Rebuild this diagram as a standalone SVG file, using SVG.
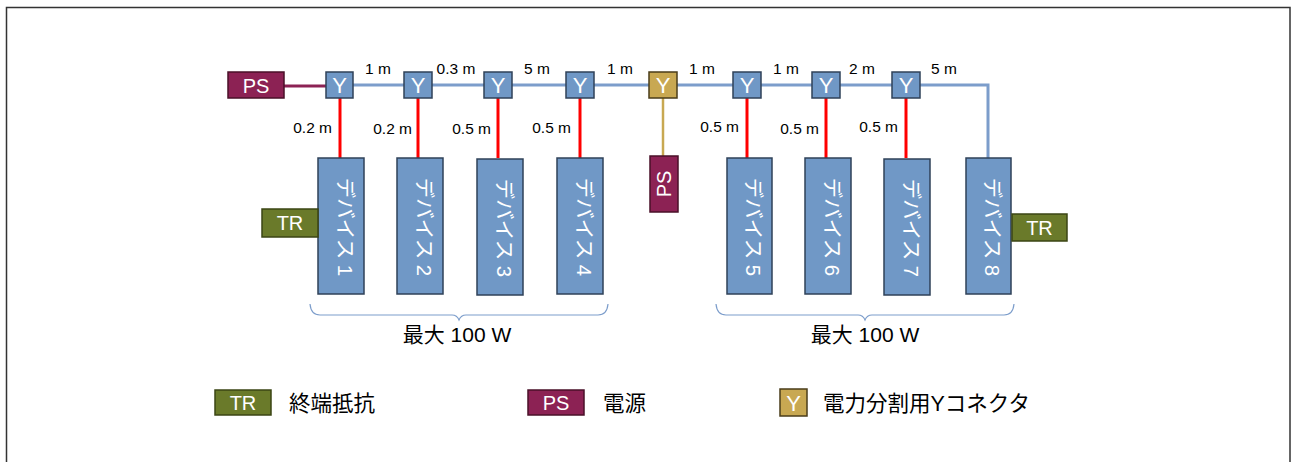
<svg xmlns="http://www.w3.org/2000/svg" width="1292" height="462" viewBox="0 0 1292 462">
<style>
text{font-family:"Liberation Sans","Noto Sans CJK JP",sans-serif}
.dev{fill:#7098C6;stroke:#2F4158;stroke-width:1.5}
.y{fill:#7098C6;stroke:#2F4158;stroke-width:1.5}
.yg{fill:#C8A852;stroke:#4A3D1A;stroke-width:1.5}
.ps{fill:#8C2254;stroke:#4A1029;stroke-width:1.5}
.tr{fill:#6A7A2A;stroke:#3B4514;stroke-width:1.5}
.wt{fill:#fff;font-size:22px;text-anchor:middle}
.wl{fill:#fff;font-size:20px;text-anchor:middle}
.lbl{fill:#000;font-size:15.5px;text-anchor:middle}
.vl{fill:#000;font-size:15.5px;text-anchor:end}
.dt{fill:#fff;font-size:20.5px;text-anchor:middle}
.blk{fill:#000;font-size:21px}
.leg{fill:#000;font-size:21.5px}
.red{stroke:#FF0000;stroke-width:3;fill:none}
.main{stroke:#7C9DCB;stroke-width:3;fill:none}
.brace{stroke:#7C9DCB;stroke-width:1.2;fill:none}
</style>
<rect x="6.5" y="7.5" width="1283.5" height="480" fill="none" stroke="#333" stroke-width="1.5"/>
<g id="connectors">
<line x1="284" y1="86" x2="326" y2="86" stroke="#8C2254" stroke-width="3"/>
<polyline class="main" points="353,85 988,85 988,158"/>
<line x1="663" y1="98" x2="663" y2="156" stroke="#C8A852" stroke-width="2.5"/>
<line class="red" x1="340" y1="98" x2="340" y2="158"/>
<line class="red" x1="418" y1="98" x2="418" y2="158"/>
<line class="red" x1="498" y1="98" x2="498" y2="158"/>
<line class="red" x1="580" y1="98" x2="580" y2="158"/>
<line class="red" x1="747" y1="98" x2="747" y2="158"/>
<line class="red" x1="826" y1="98" x2="826" y2="158"/>
<line class="red" x1="906" y1="98" x2="906" y2="158"/>
<text class="lbl" x="378" y="74">1 m</text>
<text class="lbl" x="456" y="74">0.3 m</text>
<text class="lbl" x="537" y="74">5 m</text>
<text class="lbl" x="620" y="74">1 m</text>
<text class="lbl" x="702" y="74">1 m</text>
<text class="lbl" x="786" y="74">1 m</text>
<text class="lbl" x="862" y="74">2 m</text>
<text class="lbl" x="944" y="74">5 m</text>
<text class="vl" x="332" y="133">0.2 m</text>
<text class="vl" x="412" y="134">0.2 m</text>
<text class="vl" x="491" y="134">0.5 m</text>
<text class="vl" x="571" y="133">0.5 m</text>
<text class="vl" x="739" y="132">0.5 m</text>
<text class="vl" x="819" y="134">0.5 m</text>
<text class="vl" x="898" y="132">0.5 m</text>
</g>
<g id="ps-main"><rect class="ps" x="228" y="72" width="56" height="26"/><text class="wl" x="256" y="92.5">PS</text></g>
<g id="y1"><rect class="y" x="326" y="72" width="27" height="26"/><text class="wt" x="339.5" y="93">Y</text></g>
<g id="y2"><rect class="y" x="404" y="72" width="28" height="26"/><text class="wt" x="418" y="93">Y</text></g>
<g id="y3"><rect class="y" x="484" y="72" width="28" height="26"/><text class="wt" x="498" y="93">Y</text></g>
<g id="y4"><rect class="y" x="566" y="72" width="28" height="26"/><text class="wt" x="580" y="93">Y</text></g>
<g id="yg"><rect class="yg" x="649" y="72" width="28" height="26"/><text class="wt" x="663" y="93">Y</text></g>
<g id="y5"><rect class="y" x="733" y="72" width="28" height="26"/><text class="wt" x="747" y="93">Y</text></g>
<g id="y6"><rect class="y" x="812" y="72" width="28" height="26"/><text class="wt" x="826" y="93">Y</text></g>
<g id="y7"><rect class="y" x="892" y="72" width="28" height="26"/><text class="wt" x="906" y="93">Y</text></g>
<g id="ps-mid"><rect class="ps" x="650" y="156" width="28" height="56"/><text class="wl" transform="translate(671,184) rotate(-90)" x="0" y="0">PS</text></g>
<g id="dev1"><rect class="dev" x="318" y="158" width="46" height="136"/><text class="dt" transform="translate(338,227) rotate(90)">デバイス 1</text></g>
<g id="dev2"><rect class="dev" x="397" y="158" width="46" height="136"/><text class="dt" transform="translate(417,227) rotate(90)">デバイス 2</text></g>
<g id="dev3"><rect class="dev" x="477" y="159" width="46" height="136"/><text class="dt" transform="translate(497,228) rotate(90)">デバイス 3</text></g>
<g id="dev4"><rect class="dev" x="557" y="158" width="46" height="136"/><text class="dt" transform="translate(577,227) rotate(90)">デバイス 4</text></g>
<g id="dev5"><rect class="dev" x="727" y="158" width="45" height="136"/><text class="dt" transform="translate(746,227) rotate(90)">デバイス 5</text></g>
<g id="dev6"><rect class="dev" x="805" y="158" width="46" height="136"/><text class="dt" transform="translate(825,227) rotate(90)">デバイス 6</text></g>
<g id="dev7"><rect class="dev" x="884" y="159" width="46" height="136"/><text class="dt" transform="translate(904,228) rotate(90)">デバイス 7</text></g>
<g id="dev8"><rect class="dev" x="966" y="158" width="45" height="136"/><text class="dt" transform="translate(985,227) rotate(90)">デバイス 8</text></g>
<g id="tr-left"><rect class="tr" x="262" y="209" width="56" height="28"/><text class="wl" x="290" y="230">TR</text></g>
<g id="tr-right"><rect class="tr" x="1012" y="214" width="55" height="27"/><text class="wl" x="1039.5" y="234.5">TR</text></g>
<g id="brace-left"><path class="brace" d="M310,304 Q311,315 320,315 L452,315 Q457,315 459,320 Q461,315 466,315 L598,315 Q607,315 608,304"/><text class="blk" x="457" y="342" text-anchor="middle">最大 100 W</text></g>
<g id="brace-right"><path class="brace" d="M716,304 Q717,315 726,315 L858,315 Q863,315 865,320 Q867,315 872,315 L1004,315 Q1013,315 1014,304"/><text class="blk" x="865" y="342" text-anchor="middle">最大 100 W</text></g>
<g id="legend-tr"><rect class="tr" x="215" y="390" width="56" height="25"/><text class="wl" x="243" y="410">TR</text><text class="leg" x="289" y="411">終端抵抗</text></g>
<g id="legend-ps"><rect class="ps" x="528" y="390" width="56" height="25"/><text class="wl" x="556" y="410">PS</text><text class="leg" x="603" y="411">電源</text></g>
<g id="legend-y"><rect class="yg" x="780" y="389" width="27" height="27"/><text class="wt" x="793.5" y="411">Y</text><text class="leg" x="823" y="411">電力分割用Yコネクタ</text></g>
</svg>
